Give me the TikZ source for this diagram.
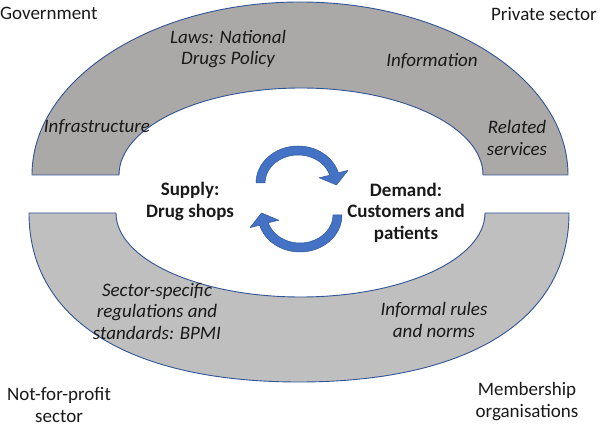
\documentclass[tikz,border=0pt]{standalone}
\usepackage{fontspec}
\setmainfont{Carlito}
\definecolor{edgeblue}{HTML}{2F5597}
\definecolor{topgray}{HTML}{ABA8A8}
\definecolor{botgray}{HTML}{BFBFBF}
\definecolor{arrowblue}{HTML}{4472C4}
\begin{document}
\begin{tikzpicture}[x=1pt,y=-1pt,
  bandline/.style={draw=edgeblue, line width=0.9pt, line join=round},
  cyclearrow/.style={fill=arrowblue, draw=edgeblue, line width=0.5pt, line join=round},
  lbl/.style={font=\fontsize{19}{21.5}\selectfont, inner sep=0pt, align=center, text=black!90},
  ital/.style={lbl, font=\fontsize{19}{21.5}\selectfont\itshape},
  boldlbl/.style={lbl, font=\fontsize{19}{21.5}\selectfont\bfseries}]
\useasboundingbox (0,0) rectangle (602,427);

% upper band
\draw[bandline, fill=topgray] (32,175) arc[start angle=180,end angle=360,x radius=268,y radius=173]
  -- (483,175) arc[start angle=0,end angle=-180,x radius=182,y radius=87] -- cycle;

% lower band
\draw[bandline, fill=botgray] (29,213) -- (116,213)
  arc[start angle=180,end angle=0,x radius=184.5,y radius=84]
  -- (569,213) .. controls (569,319.5) and (469,382) .. (299,382)
  .. controls (129,382) and (29,319.5) .. (29,213) -- cycle;

% cycle arrows
\foreach \cx/\cy/\rot in {298/183/0, 300/215/180}{
  \begin{scope}[shift={(\cx,\cy)}, rotate=\rot]
    \path[cyclearrow] (180:42 and 37) arc[start angle=180,end angle=344,x radius=42,y radius=37]
      -- (344:52 and 46) -- (38.5,2) -- (344:22 and 19) -- (344:33 and 28)
      arc[start angle=344,end angle=180,x radius=33,y radius=28] -- cycle;
  \end{scope}
}

% sector labels
\node[lbl, anchor=base west] (gov) at (0,20) {Government};
\node[lbl, anchor=base east] (priv) at (597,21) {Private sector};
\node[lbl] (nfp) at (59,405) {Not-for-profit\\sector};
\node[lbl] (memb) at (527,401.5) {Membership\\organisations};

% institution labels
\node[ital] (laws) at (228,49) {Laws: National\\Drugs Policy};
\node[ital, anchor=base] (info) at (432,67) {Information};
\node[ital, anchor=base] (infra) at (97,133) {Infrastructure};
\node[ital] (rel) at (517,138) {Related\\services};
\node[ital] (sect) at (157,311.5) {Sector-specific\\regulations and\\standards: BPMI};
\node[ital] (infr) at (434,320) {Informal rules\\and norms};

% core labels
\node[boldlbl] (supply) at (190,201.5) {Supply:\\Drug shops};
\node[boldlbl] (demand) at (406,212.5) {Demand:\\Customers and\\patients};
\end{tikzpicture}
\end{document}
